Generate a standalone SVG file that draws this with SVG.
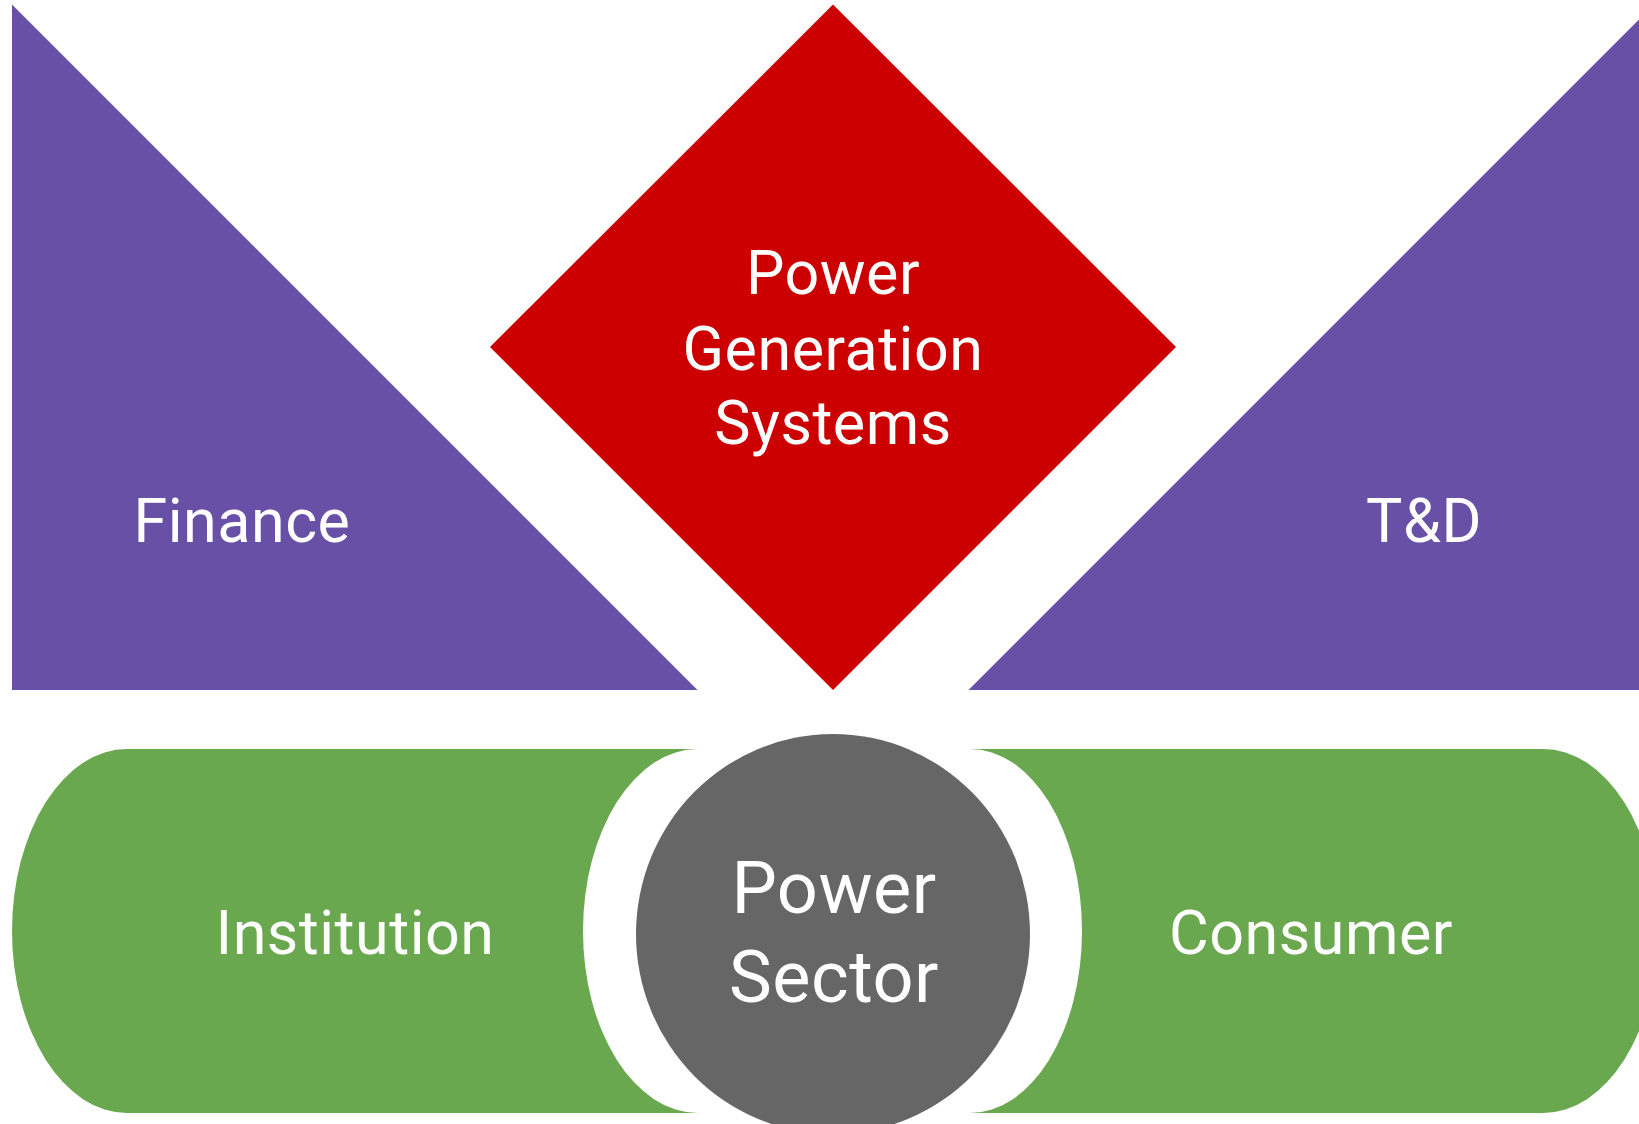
<svg xmlns="http://www.w3.org/2000/svg" width="1639" height="1124" viewBox="0 0 1639 1124">
<style>
.t{font-family:Roboto,"Liberation Sans",sans-serif;font-weight:400;fill:#FFFFFF;text-anchor:middle;letter-spacing:0.5px}
.s{font-size:61px}
.b{font-size:72px}
.purple{fill:#6750A6}
.red{fill:#CC0000}
.green{fill:#6AA84F}
.gray{fill:#666666}
</style>
<rect x="0" y="0" width="1639" height="1124" fill="#FFFFFF"/>
<g id="finance">
<polygon class="purple" points="12,4.5 12,690 697.5,690"/>
<text class="t s" x="242" y="541.5">Finance</text>
</g>
<g id="td">
<polygon class="purple" points="1654,4.5 1654,690 968.5,690"/>
<text class="t s" x="1424" y="541.5">T&amp;D</text>
</g>
<g id="power-generation">
<polygon class="red" points="833,4.5 1176,347 833,690 490,347"/>
<text class="t s" x="833" y="294">Power</text>
<text class="t s" x="833" y="370">Generation</text>
<text class="t s" x="833" y="444">Systems</text>
</g>
<g id="institution">
<path class="green" d="M127 749 H698 A115 182 0 0 0 698 1113 H127 A115 182 0 0 1 127 749 Z"/>
<text class="t s" x="355" y="954">Institution</text>
</g>
<g id="consumer">
<path class="green" d="M970 749 H1543 A115 182 0 0 1 1543 1113 H970 A112 182 0 0 0 970 749 Z"/>
<text class="t s" x="1311" y="954">Consumer</text>
</g>
<g id="power-sector">
<ellipse class="gray" cx="833" cy="934" rx="197" ry="200"/>
<text class="t b" x="834" y="913">Power</text>
<text class="t b" x="834" y="1002">Sector</text>
</g>
<g id="connectors"></g>
</svg>
